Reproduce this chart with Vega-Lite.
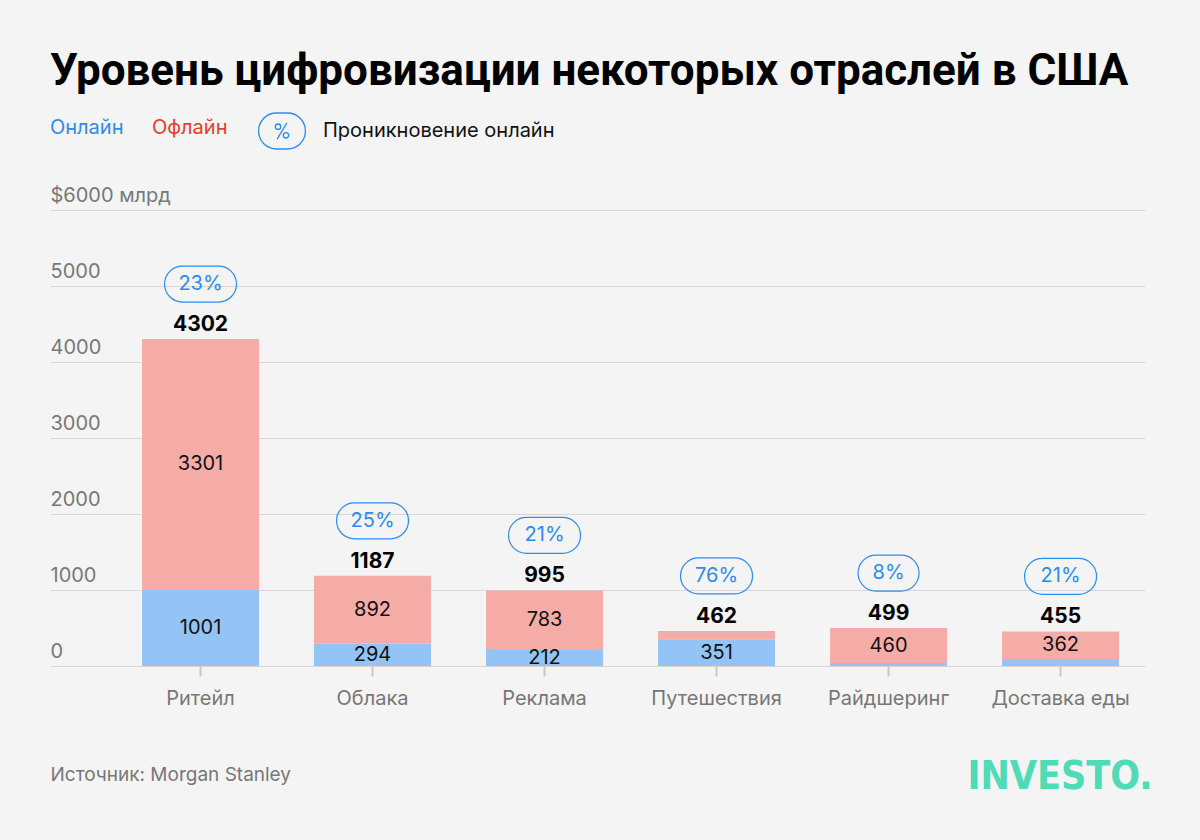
{
  "$schema": "https://vega.github.io/schema/vega-lite/v6.json",
  "width": 1095,
  "height": 456,
  "autosize": {"type": "none"},
  "padding": {"left": 50, "top": 210, "right": 55, "bottom": 174},
  "background": "#f4f4f4",
  "config": {"view": {"stroke": null}, "font": "Inter"},
  "title": {
    "text": "Уровень цифровизации некоторых отраслей в США",
    "anchor": "start",
    "frame": "group",
    "font": "Roboto",
    "fontSize": 44,
    "fontWeight": "bold",
    "color": "#000000",
    "baseline": "alphabetic",
    "offset": -17
  },
  "datasets": {
    "segments": [
      {"cat": "Ритейл", "type": "Онлайн", "value": 1001},
      {"cat": "Ритейл", "type": "Офлайн", "value": 3301},
      {"cat": "Облака", "type": "Онлайн", "value": 294},
      {"cat": "Облака", "type": "Офлайн", "value": 892},
      {"cat": "Реклама", "type": "Онлайн", "value": 212},
      {"cat": "Реклама", "type": "Офлайн", "value": 783},
      {"cat": "Путешествия", "type": "Онлайн", "value": 351},
      {"cat": "Путешествия", "type": "Офлайн", "value": 111},
      {"cat": "Райдшеринг", "type": "Онлайн", "value": 39},
      {"cat": "Райдшеринг", "type": "Офлайн", "value": 460},
      {"cat": "Доставка еды", "type": "Онлайн", "value": 93},
      {"cat": "Доставка еды", "type": "Офлайн", "value": 362}
    ],
    "totals": [
      {"cat": "Ритейл", "total": 4302, "pct": 0.23},
      {"cat": "Облака", "total": 1187, "pct": 0.25},
      {"cat": "Реклама", "total": 995, "pct": 0.21},
      {"cat": "Путешествия", "total": 462, "pct": 0.76},
      {"cat": "Райдшеринг", "total": 499, "pct": 0.08},
      {"cat": "Доставка еды", "total": 455, "pct": 0.21}
    ]
  },
  "encoding": {
    "x": {
      "field": "cat",
      "type": "nominal",
      "sort": ["Ритейл", "Облака", "Реклама", "Путешествия", "Райдшеринг", "Доставка еды"],
      "scale": {"paddingInner": 0.32, "paddingOuter": 0.343, "align": 0.78},
      "axis": {
        "title": "Источник: Morgan Stanley",
        "titleX": 0,
        "titleY": 114,
        "titleAlign": "left",
        "titleAnchor": null,
        "titleBaseline": "alphabetic",
        "titleFont": "Inter",
        "titleFontSize": 19,
        "titleFontWeight": "normal",
        "titleColor": "#777777",
        "labelAngle": 0,
        "labelColor": "#777777",
        "labelFont": "Inter",
        "labelFontSize": 20,
        "labelPadding": 12,
        "tickColor": "#c8c8c8",
        "tickWidth": 2,
        "tickSize": 10,
        "domain": false,
        "grid": false
      }
    }
  },
  "layer": [
    {
      "data": {"name": "segments"},
      "transform": [{"calculate": "datum.type === 'Онлайн' ? 0 : 1", "as": "ord"}],
      "mark": {"type": "bar"},
      "encoding": {
        "y": {
          "field": "value",
          "type": "quantitative",
          "stack": "zero",
          "scale": {"domain": [0, 6000], "nice": false},
          "axis": {
            "values": [0, 1000, 2000, 3000, 4000, 5000, 6000],
            "format": "d",
            "labelExpr": "datum.value == 6000 ? '$6000 млрд' : datum.label",
            "labelAlign": "left",
            "labelBaseline": "alphabetic",
            "labelOffset": -9,
            "labelPadding": 0,
            "ticks": false,
            "tickSize": 0,
            "domain": false,
            "grid": true,
            "gridColor": "#d6d6d6",
            "gridWidth": 1,
            "labelColor": "#787878",
            "labelFont": "Inter",
            "labelFontSize": 20,
            "title": "INVESTO.",
            "titleAngle": 0,
            "titleX": 1102,
            "titleY": 578,
            "titleAlign": "right",
            "titleBaseline": "alphabetic",
            "titleFont": "'Liberation Sans Narrow', 'DejaVu Sans Condensed', 'Roboto Condensed', Roboto, sans-serif",
            "titleFontSize": 39,
            "titleFontWeight": "bold",
            "titleColor": "#4edbb5"
          }
        },
        "order": {"field": "ord", "type": "quantitative"},
        "color": {
          "field": "type",
          "type": "nominal",
          "scale": {"domain": ["Онлайн", "Офлайн"], "range": ["#93c4f5", "#f6aca6"]},
          "legend": {
            "title": null,
            "orient": "none",
            "legendX": -20,
            "legendY": -92,
            "direction": "horizontal",
            "symbolSize": 0,
            "symbolOpacity": 0,
            "symbolStrokeWidth": 0,
            "labelOffset": 0,
            "labelFont": "Inter",
            "labelFontSize": 20,
            "columnPadding": 8,
            "padding": 0,
            "encode": {
              "labels": {
                "update": {
                  "fill": {"signal": "datum.label === 'Онлайн' ? '#2a8cf2' : '#eb3c2d'"}
                }
              }
            }
          }
        }
      }
    },
    {
      "data": {"name": "segments"},
      "transform": [
        {"calculate": "datum.type === 'Онлайн' ? 0 : 1", "as": "ord"},
        {"stack": "value", "groupby": ["cat"], "sort": [{"field": "ord", "order": "ascending"}], "as": ["v0", "v1"]},
        {"filter": "datum.value > 150"},
        {"calculate": "(datum.v0 + datum.v1) / 2", "as": "mid"}
      ],
      "mark": {"type": "text", "font": "Inter", "fontSize": 20, "color": "#111111", "baseline": "middle"},
      "encoding": {
        "y": {"field": "mid", "type": "quantitative"},
        "text": {"field": "value", "type": "quantitative", "format": "d"}
      }
    },
    {
      "data": {"name": "totals"},
      "mark": {"type": "text", "font": "Inter", "fontSize": 21, "fontWeight": "bold", "color": "#000000", "baseline": "alphabetic", "dy": -8},
      "encoding": {
        "y": {"field": "total", "type": "quantitative"},
        "text": {"field": "total", "type": "quantitative", "format": "d"}
      }
    },
    {
      "data": {"name": "totals"},
      "transform": [{"calculate": "length(format(datum.pct, '.0%'))", "as": "len"}],
      "mark": {"type": "bar", "fill": "transparent", "strokeWidth": 1.2, "cornerRadius": 18, "yOffset": -37, "y2Offset": -73},
      "encoding": {
        "y": {"field": "total", "type": "quantitative"},
        "y2": {"field": "total"},
        "size": {"field": "len", "type": "quantitative", "scale": {"domain": [2, 3], "range": [61, 72]}, "legend": null},
        "stroke": {
          "datum": "Проникновение онлайн",
          "type": "nominal",
          "scale": {"range": ["#2a8cf2"]},
          "legend": {
            "title": null,
            "orient": "none",
            "legendX": 213,
            "legendY": -98,
            "symbolType": "M -0.3 -1 L 0.3 -1 A 1 1 0 0 1 0.3 1 L -0.3 1 A 1 1 0 0 1 -0.3 -1 Z M -0.37 -0.24 A 0.15 0.15 0 1 0 -0.07 -0.24 A 0.15 0.15 0 1 0 -0.37 -0.24 Z M 0.07 0.24 A 0.15 0.15 0 1 0 0.37 0.24 A 0.15 0.15 0 1 0 0.07 0.24 Z M 0.27 -0.45 L -0.27 0.45",
            "symbolSize": 1296,
            "symbolFillColor": "transparent",
            "symbolStrokeWidth": 1.3,
            "labelOffset": 22,
            "labelLimit": 400,
            "labelFont": "Inter",
            "labelFontSize": 20,
            "labelColor": "#111111",
            "padding": 0
          }
        }
      }
    },
    {
      "data": {"name": "totals"},
      "mark": {"type": "text", "font": "Inter", "fontSize": 20, "color": "#2a8cf2", "baseline": "middle", "dy": -55},
      "encoding": {
        "y": {"field": "total", "type": "quantitative"},
        "text": {"field": "pct", "type": "quantitative", "format": ".0%"}
      }
    }
  ]
}
